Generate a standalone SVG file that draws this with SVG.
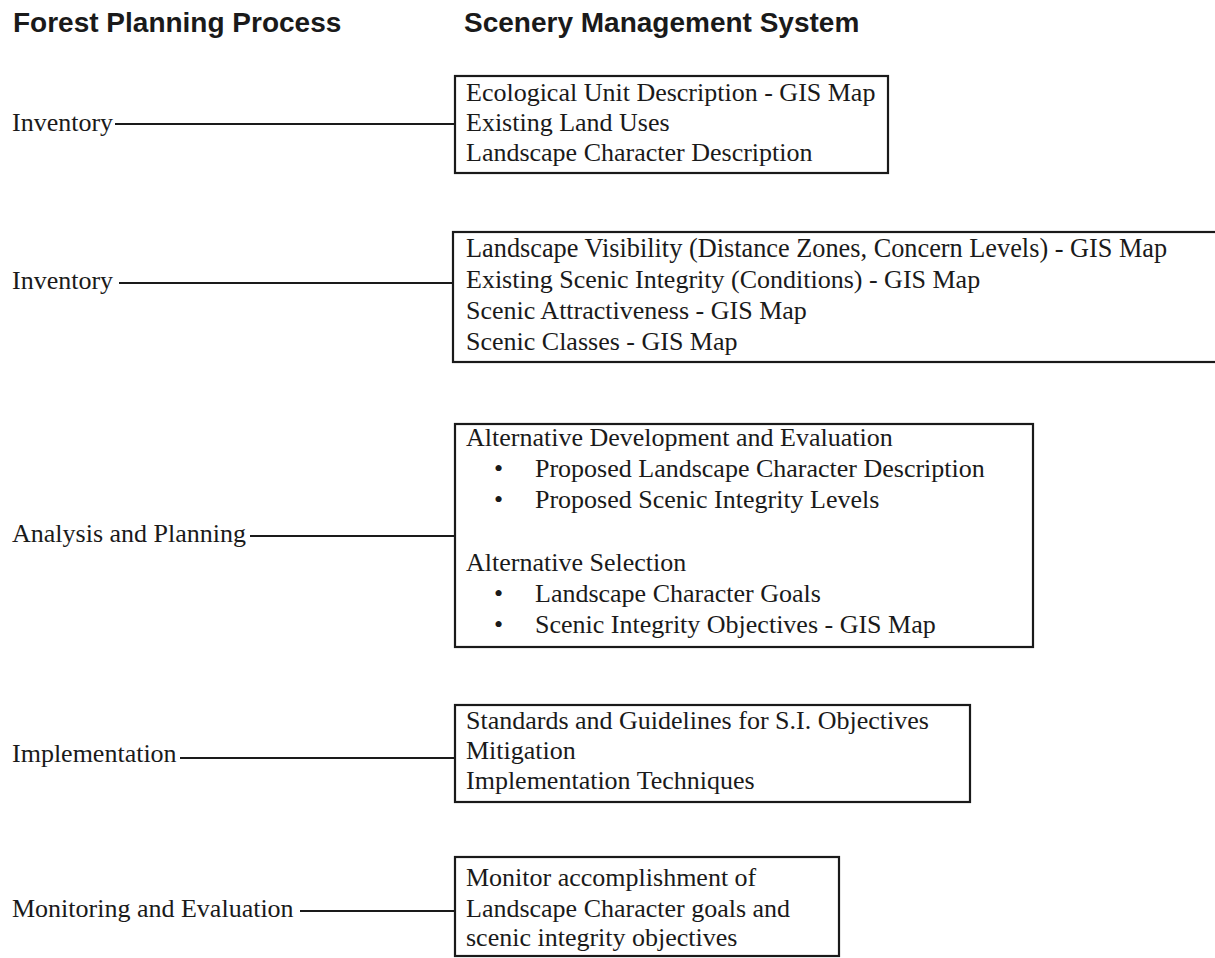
<svg xmlns="http://www.w3.org/2000/svg" width="1215" height="958" viewBox="0 0 1215 958">
<style>
.h{font-family:"Liberation Sans",Arial,sans-serif;font-weight:bold;font-size:28px;fill:#1a1a1a}
.t{font-family:"Liberation Serif","Times New Roman",serif;font-size:26px;fill:#1a1a1a}
.box{fill:none;stroke:#1a1a1a;stroke-width:2.2}
.con{stroke:#1a1a1a;stroke-width:2.2;fill:none}
</style>
<rect width="1215" height="958" fill="#ffffff"/>
<g id="headers">
<text class="h" x="13" y="32">Forest Planning Process</text>
<text class="h" x="464" y="32">Scenery Management System</text>
</g>
<g id="labels">
<text id="lab-inv1" class="t" x="12" y="131">Inventory</text>
<text id="lab-inv2" class="t" x="12" y="289">Inventory</text>
<text id="lab-anal" class="t" x="12" y="542">Analysis and Planning</text>
<text id="lab-impl" class="t" x="12" y="762">Implementation</text>
<text id="lab-mon" class="t" x="12" y="917">Monitoring and Evaluation</text>
</g>
<g id="connectors">
<line class="con" x1="115" y1="124" x2="455" y2="124"/>
<line class="con" x1="119" y1="283" x2="453" y2="283"/>
<line class="con" x1="250" y1="536" x2="455" y2="536"/>
<line class="con" x1="180" y1="758" x2="455" y2="758"/>
<line class="con" x1="300" y1="911" x2="455" y2="911"/>
</g>
<g id="box1">
<rect class="box" x="455" y="76" width="433" height="97"/>
<text class="t" x="466" y="101">Ecological Unit Description - GIS Map</text>
<text class="t" x="466" y="131">Existing Land Uses</text>
<text class="t" x="466" y="161">Landscape Character Description</text>
</g>
<g id="box2">
<rect class="box" x="453" y="232" width="790" height="130"/>
<text class="t" x="466" y="257" style="font-size:26.3px">Landscape Visibility (Distance Zones, Concern Levels) - GIS Map</text>
<text class="t" x="466" y="288">Existing Scenic Integrity (Conditions) - GIS Map</text>
<text class="t" x="466" y="319">Scenic Attractiveness - GIS Map</text>
<text class="t" x="466" y="350">Scenic Classes - GIS Map</text>
</g>
<g id="box3">
<rect class="box" x="455" y="424" width="578" height="223"/>
<text class="t" x="466" y="446">Alternative Development and Evaluation</text>
<text class="t" x="494" y="477">•</text>
<text class="t" x="535" y="477">Proposed Landscape Character Description</text>
<text class="t" x="494" y="508">•</text>
<text class="t" x="535" y="508">Proposed Scenic Integrity Levels</text>
<text class="t" x="466" y="571">Alternative Selection</text>
<text class="t" x="494" y="602">•</text>
<text class="t" x="535" y="602">Landscape Character Goals</text>
<text class="t" x="494" y="633">•</text>
<text class="t" x="535" y="633">Scenic Integrity Objectives - GIS Map</text>
</g>
<g id="box4">
<rect class="box" x="455" y="705" width="515" height="97"/>
<text class="t" x="466" y="729">Standards and Guidelines for S.I. Objectives</text>
<text class="t" x="466" y="759">Mitigation</text>
<text class="t" x="466" y="789">Implementation Techniques</text>
</g>
<g id="box5">
<rect class="box" x="455" y="857" width="384" height="99"/>
<text class="t" x="466" y="886">Monitor accomplishment of</text>
<text class="t" x="466" y="917">Landscape Character goals and</text>
<text class="t" x="466" y="946">scenic integrity objectives</text>
</g>
</svg>
